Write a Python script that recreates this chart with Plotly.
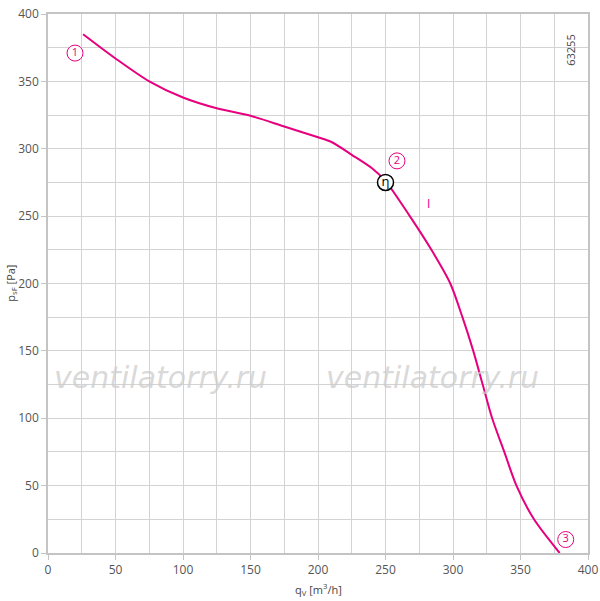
import plotly.graph_objects as go

# fan curve, q_V [m3/h] vs p_sF [Pa]
flow = [26, 50, 75, 100, 125, 150, 175, 200, 210, 225, 240, 250, 268, 284,
        298, 307, 315, 322, 329, 338, 347, 360, 379]
pressure = [385, 367, 350, 338, 330, 324.5, 316.5, 308.5, 305, 295.5, 285.5,
            276, 250, 225, 200, 175, 150, 125, 100, 75, 50, 25, 0]

# circled operating-point labels
point_labels = ["1", "2", "3"]
point_x = [20, 258.5, 383.5]
point_y = [371, 291, 10]

# efficiency marker
eta_x = [250]
eta_y = [275]

MAGENTA = "#e6007e"
GRID = "#d3d3d3"
FONT = "Open Sans, DejaVu Sans, sans-serif"

fig = go.Figure()

fig.add_trace(
    go.Scatter(
        x=flow,
        y=pressure,
        mode="lines",
        line={"color": MAGENTA, "width": 2, "shape": "spline", "smoothing": 0.8},
        hoverinfo="skip",
    )
)
fig.add_trace(
    go.Scatter(
        x=point_x,
        y=point_y,
        mode="markers+text",
        text=point_labels,
        textposition="middle center",
        textfont={"color": MAGENTA, "size": 11, "family": FONT},
        marker={"symbol": "circle", "size": 16, "color": "white",
                "line": {"color": MAGENTA, "width": 1}},
        hoverinfo="skip",
    )
)
fig.add_trace(
    go.Scatter(
        x=eta_x,
        y=eta_y,
        mode="markers+text",
        text=["η"],
        textposition="middle center",
        textfont={"color": "black", "size": 13, "family": FONT},
        marker={"symbol": "circle", "size": 16, "color": "white",
                "line": {"color": "black", "width": 1.5}},
        hoverinfo="skip",
    )
)

fig.add_annotation(x=281.5, y=259.5, text="I", showarrow=False,
                   font={"color": MAGENTA, "size": 12, "family": FONT})
for wx in (83, 285):
    fig.add_annotation(x=wx, y=130, text="<i>ventilatorry.ru</i>", showarrow=False,
                       font={"color": "rgba(205,205,205,0.75)", "size": 30,
                             "family": "DejaVu Sans, sans-serif"})
fig.add_annotation(x=0.985, y=0.965, xref="paper", yref="paper", text="63255",
                   showarrow=False, textangle=-90,
                   font={"color": "#444", "size": 11, "family": FONT})

# axis titles as paper annotations so the margins stay fixed
fig.add_annotation(x=0.5, y=-0.068, xref="paper", yref="paper",
                   text="q<sub>V</sub> [m<sup>3</sup>/h]", showarrow=False,
                   yanchor="middle",
                   font={"color": "#444", "size": 11, "family": FONT})
fig.add_annotation(x=-0.07, y=0.5, xref="paper", yref="paper",
                   text="p<sub>sF</sub> [Pa]", showarrow=False, textangle=-90,
                   xanchor="center",
                   font={"color": "#444", "size": 11, "family": FONT})

axis_common = dict(
    range=[0, 400],
    tick0=0,
    dtick=50,
    gridcolor=GRID,
    gridwidth=1,
    minor={"dtick": 25, "showgrid": True, "gridcolor": GRID, "gridwidth": 1},
    showline=True,
    linecolor="#c4c4c4",
    linewidth=1.5,
    mirror=True,
    zeroline=False,
    ticks="outside",
    ticklen=5,
    tickcolor="#c4c4c4",
    tickfont={"color": "#555", "size": 12, "family": FONT},
    ticklabeloverflow="allow",
    automargin=False,
    fixedrange=True,
)

fig.update_xaxes(**axis_common)
fig.update_yaxes(**axis_common)

fig.update_layout(
    width=600,
    height=601,
    margin={"l": 48, "r": 12, "t": 14, "b": 48},
    plot_bgcolor="white",
    paper_bgcolor="white",
    showlegend=False,
)

# drop the default body margin so the full 600x601 figure sits in the window
fig.write_html("out.html", config={"displayModeBar": False},
               post_script="document.body.style.margin = '0';")
